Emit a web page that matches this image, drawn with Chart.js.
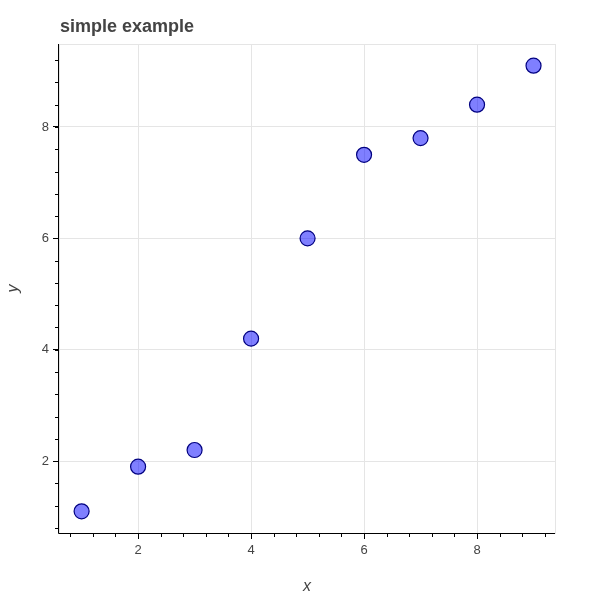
<!DOCTYPE html>
<html lang="en">
<head>
  <meta charset="UTF-8">
  <title>simple example</title>
  <script src="https://cdn.jsdelivr.net/npm/chart.js"></script>
  <style>
    body { margin: 0; padding: 0; background: #fff; }
    #wrap { width: 600px; height: 600px; }
  </style>
</head>
<body>
  <div id="wrap"><canvas id="c"></canvas></div>
  <script>
    const xValues = [1, 2, 3, 4, 5, 6, 7, 8, 9];
    const yValues = [1.1, 1.9, 2.2, 4.2, 6.0, 7.5, 7.8, 8.4, 9.1];
    const majorTicks = [2, 4, 6, 8];
    const titleText = "simple example";

    // Bokeh-like frame: light border, black left/bottom axes, minor ticks
    const bokehFrame = {
      id: "bokehFrame",
      beforeDatasetsDraw(chart) {
        const { ctx, chartArea: a } = chart;
        ctx.save();
        ctx.strokeStyle = "#e5e5e5";
        ctx.lineWidth = 1;
        ctx.strokeRect(a.left + 0.5, a.top + 0.5, a.right - a.left, a.bottom - a.top);
        ctx.restore();
      },
      afterDraw(chart) {
        const { ctx, chartArea: a, scales } = chart;
        ctx.save();
        ctx.strokeStyle = "#000";
        ctx.lineWidth = 1;
        ctx.beginPath();
        ctx.moveTo(a.left - 0.5, a.top);
        ctx.lineTo(a.left - 0.5, a.bottom + 0.5);
        ctx.lineTo(a.right, a.bottom + 0.5);
        ctx.stroke();
        // minor ticks
        ctx.beginPath();
        for (let v = 0.8; v <= 9.4; v += 0.4) {
          const px = Math.round(scales.x.getPixelForValue(v)) + 0.5;
          if (px < a.left || px > a.right) continue;
          ctx.moveTo(px, a.bottom); ctx.lineTo(px, a.bottom + 4);
        }
        for (let v = 0.8; v <= 9.5; v += 0.4) {
          const py = Math.round(scales.y.getPixelForValue(v)) + 0.5;
          if (py < a.top || py > a.bottom) continue;
          ctx.moveTo(a.left, py); ctx.lineTo(a.left - 4, py);
        }
        ctx.stroke();
        ctx.fillStyle = "#444";
        ctx.font = "bold 18px 'Liberation Sans', Arial, sans-serif";
        ctx.textBaseline = "alphabetic";
        ctx.fillText(titleText, 60, 32);
        ctx.restore();
      }
    };

    const tickFont = { family: "'Liberation Sans', Arial, sans-serif", size: 13 };
    const axisTitleFont = { family: "'Liberation Sans', Arial, sans-serif", size: 16, style: "italic" };
    const setMajor = s => { s.ticks = majorTicks.map(v => ({ value: v })); };

    new Chart(document.getElementById("c"), {
      type: "scatter",
      data: {
        datasets: [{
          data: xValues.map((x, i) => ({ x, y: yValues[i] })),
          pointRadius: 7.5,
          pointHoverRadius: 7.5,
          backgroundColor: "rgba(0, 0, 255, 0.5)",
          borderColor: "#000080",
          borderWidth: 1.2
        }]
      },
      options: {
        responsive: true,
        maintainAspectRatio: false,
        animation: false,
        layout: { padding: { top: 44, right: 45, left: 0, bottom: 0 } },
        plugins: { legend: { display: false }, tooltip: { enabled: false }, title: { display: false } },
        scales: {
          x: {
            type: "linear", min: 0.6, max: 9.38,
            afterBuildTicks: setMajor,
            afterFit(s) { s.height = 67; },
            border: { display: false },
            grid: { color: "#e5e5e5", tickColor: "#000", tickLength: 6 },
            ticks: { color: "#444", font: tickFont, padding: 4 },
            title: { display: true, text: "x", color: "#444", font: axisTitleFont, padding: { top: 6 } }
          },
          y: {
            type: "linear", min: 0.71, max: 9.49,
            afterBuildTicks: setMajor,
            afterFit(s) { s.width = 59; },
            border: { display: false },
            grid: { color: "#e5e5e5", tickColor: "#000", tickLength: 6 },
            ticks: { color: "#444", font: tickFont, padding: 4 },
            title: { display: true, text: "y", color: "#444", font: axisTitleFont, padding: { top: 4, bottom: 2 } }
          }
        }
      },
      plugins: [bokehFrame]
    });
  </script>
</body>
</html>
